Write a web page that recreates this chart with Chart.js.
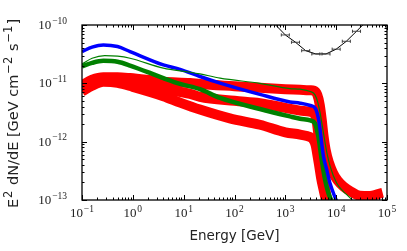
<!DOCTYPE html>
<html lang="en">
<head>
  <meta charset="UTF-8" />
  <title>Spectra</title>
  <script src="https://cdn.jsdelivr.net/npm/chart.js"></script>
  <style>
    html, body { margin: 0; padding: 0; background: #fff; }
    canvas { display: block; }
  </style>
</head>
<body>
  <canvas id="grafico" width="407" height="251"></canvas>

  <script>
    // energy [GeV] and E^2 dN/dE [GeV cm^-2 s^-1]
    const azulE = [0.1, 0.158, 0.263, 0.5, 0.88, 3.98, 8.5, 20.9, 52, 316, 1230, 1950, 3090, 3890, 4470, 4840, 5250, 5620, 6610, 7590, 9550, 11200];
    const azulF = [3.50e-11, 4.17e-11, 4.55e-11, 4.27e-11, 3.50e-11, 2.07e-11, 1.74e-11, 1.31e-11, 1.01e-11, 6.46e-12, 4.79e-12, 4.57e-12, 4.17e-12, 3.72e-12, 2.51e-12, 1.58e-12, 8.71e-13, 5.62e-13, 3.16e-13, 1.91e-13, 1.10e-13, 7.9e-14];

    const verdeFinoE = [0.1, 0.158, 0.28, 0.5, 0.88, 3.98, 13.4, 20.9, 52, 316, 1230, 1950, 3090, 3840, 4365, 4840, 5620, 6560, 7590, 10200, 13800, 18600, 24500];
    const verdeFinoF = [2.14e-11, 2.69e-11, 2.99e-11, 2.92e-11, 2.69e-11, 1.82e-11, 1.55e-11, 1.45e-11, 1.23e-11, 1.0e-11, 8.13e-12, 7.94e-12, 7.24e-12, 6.35e-12, 4.68e-12, 3.09e-12, 1.41e-12, 6.46e-13, 3.80e-13, 1.95e-13, 1.41e-13, 1.10e-13, 8.3e-14];

    const verdeE = [0.1, 0.158, 0.263, 0.5, 0.88, 3.98, 8.5, 20.9, 52, 316, 1230, 1950, 3090, 3840, 4460, 5200, 6040, 7010, 8170];
    const verdeF = [1.95e-11, 2.24e-11, 2.43e-11, 2.34e-11, 2.02e-11, 1.23e-11, 9.77e-12, 7.94e-12, 5.62e-12, 3.63e-12, 2.71e-12, 2.47e-12, 2.31e-12, 2.04e-12, 1.23e-12, 4.92e-13, 2.24e-13, 1.33e-13, 9.5e-14];

    const vermAE = [0.1, 0.158, 0.263, 0.5, 0.88, 3.98, 13.4, 20.9, 100, 316, 1000, 1950, 3090, 3660, 4250, 4750, 5200, 5600, 6200, 7200, 8600, 10700, 14000, 19500, 29400, 46300, 82000];
    const vermAF = [9.33e-12, 1.15e-11, 1.27e-11, 1.27e-11, 1.23e-11, 1.07e-11, 1.01e-11, 9.72e-12, 8.91e-12, 8.38e-12, 7.94e-12, 7.74e-12, 7.59e-12, 7.45e-12, 6.35e-12, 4.29e-12, 2.38e-12, 1.32e-12, 7.29e-13, 4.38e-13, 2.95e-13, 2.15e-13, 1.70e-13, 1.40e-13, 1.18e-13, 1.17e-13, 1.33e-13];

    const vermBE = [0.1, 0.158, 0.263, 0.5, 0.88, 3.98, 13.4, 20.9, 100, 316, 1000, 1950, 3060, 3660, 4100, 4400, 4810, 5270, 5900, 6610, 7230];
    const vermBF = [8.32e-12, 1.02e-11, 1.17e-11, 1.15e-11, 1.05e-11, 7.94e-12, 6.61e-12, 5.89e-12, 5.01e-12, 4.57e-12, 3.80e-12, 3.41e-12, 3.26e-12, 3.01e-12, 2.38e-12, 1.48e-12, 7.29e-13, 3.60e-13, 1.84e-13, 1.02e-13, 6.9e-14];

    const vermCE = [0.1, 0.158, 0.263, 0.5, 1.0, 3.98, 8.5, 20.9, 81, 316, 1000, 1950, 3060, 3510, 3930, 4200, 4600, 5040, 5640, 6310, 6920];
    const vermCF = [7.24e-12, 9.12e-12, 1.06e-11, 1.02e-11, 8.71e-12, 6.03e-12, 4.68e-12, 3.55e-12, 2.51e-12, 1.95e-12, 1.45e-12, 1.32e-12, 1.20e-12, 1.10e-12, 8.89e-13, 6.49e-13, 4.05e-13, 2.43e-13, 1.51e-13, 9.8e-14, 6.9e-14];

    // black sensitivity curve with horizontal bars
    const sensE = [631, 1000, 1585, 2512, 3981, 6310, 10000, 15850, 25120, 39810];
    const sensF = [1.02e-10, 6.75e-11, 5.06e-11, 3.63e-11, 3.19e-11, 3.19e-11, 3.85e-11, 5.26e-11, 7.80e-11, 1.17e-10];

    // ticks: base 10 with these exponents
    const xTickValores = [0.1, 1, 10, 100, 1000, 10000, 100000];
    const xTickExp = ['\u22121', '0', '1', '2', '3', '4', '5'];
    const yTickValores = [1e-13, 1e-12, 1e-11, 1e-10];
    const yTickExp = ['\u221213', '\u221212', '\u221211', '\u221210'];

    const tituloX = 'Energy [GeV]';
    // [text, superscript?]
    const tituloY = [['E', 0], ['2', 1], [' dN/dE [GeV cm', 0], ['\u22122', 1], [' s', 0], ['\u22121', 1], [']', 0]];

    function pontos(es, fs) {
      return es.map((e, i) => ({ x: e, y: fs[i] }));
    }

    function curva(es, fs, cor, largura, ordem) {
      return {
        data: pontos(es, fs),
        borderColor: cor,
        borderWidth: largura,
        pointRadius: 0,
        fill: false,
        cubicInterpolationMode: 'monotone',
        borderJoinStyle: 'round',
        clip: 0,
        order: ordem
      };
    }

    function marcasLog(min, max) {
      const lista = [];
      const p0 = Math.round(Math.log10(min));
      const p1 = Math.round(Math.log10(max));
      for (let p = p0; p < p1; p++) {
        for (let k = 1; k <= 9; k++) {
          lista.push({ v: k * Math.pow(10, p), maior: k === 1 });
        }
      }
      lista.push({ v: max, maior: true });
      return lista;
    }

    // "10" + exponent, align 'center' or 'right'
    function potencia(ctx, exp, x, base, alinhar) {
      ctx.font = '13px "Liberation Serif"';
      const w1 = ctx.measureText('10').width;
      ctx.font = '9.5px "Liberation Serif"';
      const w2 = ctx.measureText(exp).width;
      const total = w1 + 0.8 + w2;
      const x0 = alinhar === 'center' ? x - total / 2 : x - total;
      ctx.font = '13px "Liberation Serif"';
      ctx.fillText('10', x0, base);
      ctx.font = '9.5px "Liberation Serif"';
      ctx.fillText(exp, x0 + w1 + 0.8, base - 5.5);
    }

    const eixos = {
      id: 'eixos',
      afterDatasetsDraw(chart) {
        const ctx = chart.ctx;
        const a = chart.chartArea;
        const sx = chart.scales.x;
        const sy = chart.scales.y;

        // bars of the black curve
        ctx.save();
        ctx.beginPath();
        ctx.rect(a.left, a.top, a.right - a.left, a.bottom - a.top);
        ctx.clip();
        ctx.strokeStyle = '#333';
        ctx.lineWidth = 0.9;
        for (let i = 0; i < sensE.length; i++) {
          const x1 = sx.getPixelForValue(sensE[i] / 1.2);
          const x2 = sx.getPixelForValue(sensE[i] * 1.2);
          const py = sy.getPixelForValue(sensF[i]);
          ctx.beginPath();
          ctx.moveTo(x1, py); ctx.lineTo(x2, py);
          ctx.moveTo(x1, py - 1.6); ctx.lineTo(x1, py + 1.6);
          ctx.moveTo(x2, py - 1.6); ctx.lineTo(x2, py + 1.6);
          ctx.stroke();
        }
        ctx.restore();

        // inward ticks on all four sides
        ctx.save();
        ctx.strokeStyle = '#000';
        ctx.lineWidth = 1;
        ctx.beginPath();
        marcasLog(sx.min, sx.max).forEach(m => {
          const px = Math.round(sx.getPixelForValue(m.v)) + 0.5;
          const len = m.maior ? 5 : 2.5;
          ctx.moveTo(px, a.bottom); ctx.lineTo(px, a.bottom - len);
          ctx.moveTo(px, a.top); ctx.lineTo(px, a.top + len);
        });
        marcasLog(sy.min, sy.max).forEach(m => {
          const py = Math.round(sy.getPixelForValue(m.v)) + 0.5;
          const len = m.maior ? 5 : 2.5;
          ctx.moveTo(a.left, py); ctx.lineTo(a.left + len, py);
          ctx.moveTo(a.right, py); ctx.lineTo(a.right - len, py);
        });
        ctx.stroke();

        ctx.lineWidth = 1.3;
        ctx.strokeRect(a.left, a.top, a.right - a.left, a.bottom - a.top);

        // tick labels
        ctx.fillStyle = '#222';
        ctx.textBaseline = 'alphabetic';
        ctx.textAlign = 'left';
        for (let i = 0; i < xTickValores.length; i++) {
          potencia(ctx, xTickExp[i], sx.getPixelForValue(xTickValores[i]), a.bottom + 17, 'center');
        }
        for (let i = 0; i < yTickValores.length; i++) {
          potencia(ctx, yTickExp[i], a.left - 15, sy.getPixelForValue(yTickValores[i]) + 4, 'right');
        }

        // axis titles
        ctx.font = '13.5px "DejaVu Sans"';
        ctx.textAlign = 'center';
        ctx.fillText(tituloX, (a.left + a.right) / 2, 239.5);

        ctx.textAlign = 'left';
        const fonteNormal = '14.5px "DejaVu Sans"';
        const fonteSup = '11.5px "DejaVu Sans"';
        let total = 0;
        tituloY.forEach(p => {
          ctx.font = p[1] ? fonteSup : fonteNormal;
          total += ctx.measureText(p[0]).width + (p[1] ? 2 : 0);
        });
        ctx.translate(17.5, (a.top + a.bottom) / 2 + 1);
        ctx.rotate(-Math.PI / 2);
        let u = -total / 2;
        tituloY.forEach(p => {
          ctx.font = p[1] ? fonteSup : fonteNormal;
          if (p[1]) u += 1;
          ctx.fillText(p[0], u, p[1] ? -6 : 0);
          u += ctx.measureText(p[0]).width + (p[1] ? 1 : 0);
        });
        ctx.restore();
      }
    };

    const vermelho = '#ff0000';

    new Chart(document.getElementById('grafico'), {
      type: 'line',
      data: {
        datasets: [
          curva(vermAE, vermAF, vermelho, 10, 5),
          curva(vermBE, vermBF, vermelho, 10, 5),
          curva(vermCE, vermCF, vermelho, 10, 5),
          curva(verdeE, verdeF, '#008000', 4.5, 3),
          curva(azulE, azulF, '#0000ff', 3.5, 2),
          curva(verdeFinoE, verdeFinoF, '#008000', 1.2, 1),
          {
            data: pontos(sensE, sensF),
            borderColor: '#000',
            borderWidth: 1,
            pointRadius: 0,
            tension: 0,
            fill: false,
            clip: 0,
            order: 0
          }
        ]
      },
      options: {
        responsive: false,
        animation: false,
        events: [],
        layout: { padding: { top: 25, right: 20, left: 0, bottom: 0 } },
        plugins: {
          legend: { display: false },
          tooltip: { enabled: false }
        },
        scales: {
          x: {
            type: 'logarithmic',
            min: 0.1,
            max: 100000,
            grid: { display: false },
            border: { display: false },
            ticks: { display: false },
            afterFit: s => { s.height = 51; }
          },
          y: {
            type: 'logarithmic',
            min: 1e-13,
            max: 1e-10,
            grid: { display: false },
            border: { display: false },
            ticks: { display: false },
            afterFit: s => { s.width = 82; }
          }
        }
      },
      plugins: [eixos]
    });
  </script>
</body>
</html>
